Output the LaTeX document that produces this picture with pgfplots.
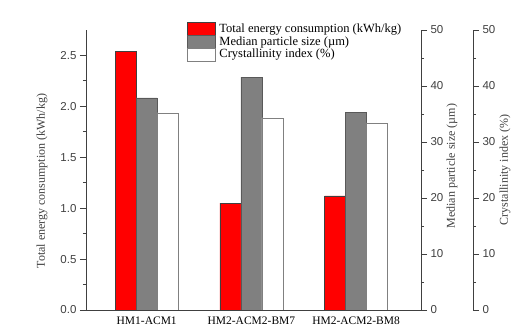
\documentclass[border=0pt]{standalone}
\usepackage{pgfplots}
\pgfplotsset{compat=1.18}
\usepackage{fontspec}
\setmainfont{Liberation Serif}
\newfontfamily\arialf{Liberation Sans}
\definecolor{axc}{HTML}{404040}
\definecolor{barg}{HTML}{808080}
\begin{document}
\begin{tikzpicture}[x=1pt,y=1pt]
\path[use as bounding box] (-86,-18) rectangle (433,310);
\pgfplotsset{
  base/.style={
    scale only axis, width=335pt, height=280pt,
    xmin=-0.58, xmax=2.62, ymin=0,
    at={(0,0)}, anchor=south west,
    axis line style={axc, line width=0.8pt},
    tick style={axc, line width=0.8pt},
    tick align=outside,
    major tick length=6pt, minor tick length=3pt,
    /pgf/number format/assume math mode=true,
    ticklabel style={font=\arialf\fontsize{11.5}{12}\selectfont, text=axc},
    label style={font=\fontsize{12}{14}\selectfont, text=axc},
    ybar, bar width=21pt,
  }
}
\begin{axis}[base, ymax=2.75,
  axis x line*=bottom, axis y line*=left,
  ytick={0,0.5,1,1.5,2,2.5}, minor y tick num=1,
  yticklabel style={/pgf/number format/fixed, /pgf/number format/fixed zerofill, /pgf/number format/precision=1},
  xtick={0,1,2}, xticklabels={HM1-ACM1,HM2-ACM2-BM7,HM2-ACM2-BM8},
  xticklabel style={font=\fontsize{11.5}{12}\selectfont, text=black, yshift=3pt},
  x tick style={draw=none},
  ylabel={Total energy consumption (kWh/kg)},
  ylabel style={at={(axis description cs:-0.131,0.46)}, anchor=center},
  legend cell align=left,
  legend style={at={(0.301,1.03)}, anchor=north west, draw=none, fill=none,
    font=\fontsize{12.5}{14}\selectfont, inner sep=0pt, row sep=-1.5pt,
    /tikz/every odd column/.append style={column sep=2pt}},
  legend image code/.code={\draw[#1] (0pt,-6.5pt) rectangle (28pt,6.5pt);},
]
\addplot[fill=red, draw=black!75, bar shift=-21pt] coordinates {(0,2.54) (1,1.05) (2,1.12)};
\addlegendentry{Total energy consumption (kWh/kg)}
\addlegendimage{fill=barg, draw=black!65}
\addlegendentry{Median particle size (\textmu m)}
\addlegendimage{fill=white, draw=barg}
\addlegendentry{Crystallinity index (\%)}
\end{axis}
\begin{axis}[base, ymax=50,
  axis x line=none, axis y line*=right,
  ytick={0,10,...,50}, minor y tick num=1,
  ylabel={Median particle size (\textmu m)},
  ylabel style={at={(axis description cs:1.0925,0.514)}, anchor=center},
]
\addplot[fill=barg, draw=black!65, bar shift=0pt] coordinates {(0,37.9) (1,41.6) (2,35.3)};
\addplot[fill=white, draw=barg, bar shift=21pt] coordinates {(0,35.2) (1,34.3) (2,33.4)};
\end{axis}
\begin{axis}[base, at={(52pt,0)}, xmin=0, xmax=1, ymax=50,
  axis x line=none, axis y line*=right,
  ytick={0,10,...,50}, minor y tick num=1,
  ylabel={Crystallinity index (\%)},
  ylabel style={at={(axis description cs:1.0955,0.5)}, anchor=center},
]
\addplot[draw=none, fill=none] coordinates {(0,0)};
\end{axis}
\end{tikzpicture}
\end{document}
